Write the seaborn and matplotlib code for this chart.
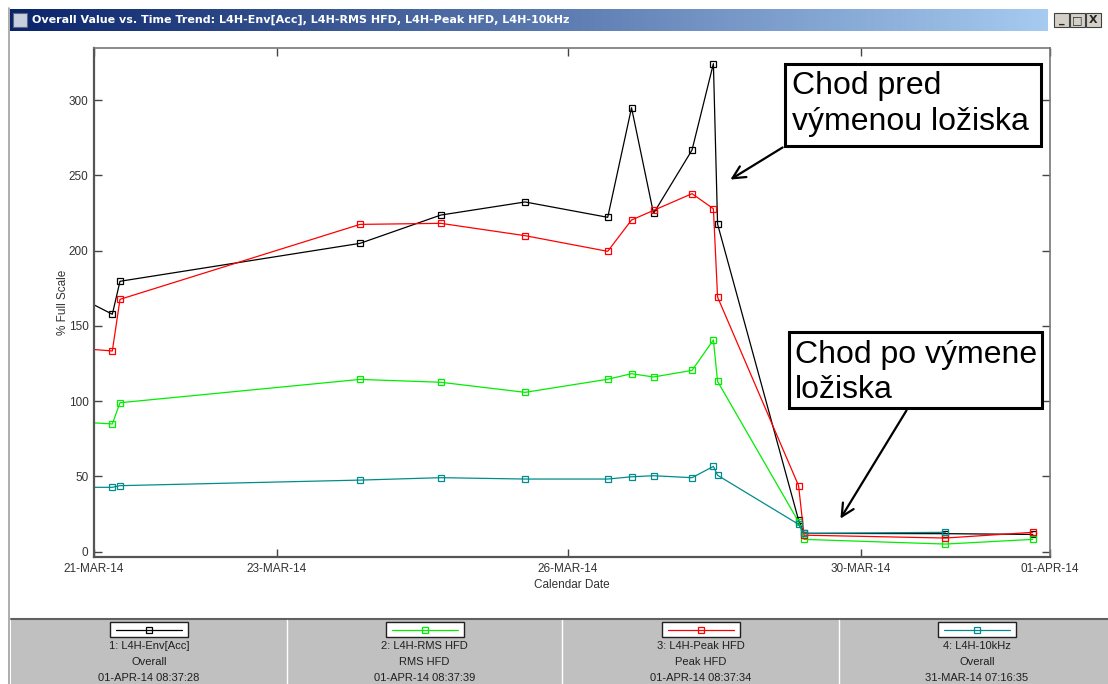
import numpy as np
import pandas as pd
import seaborn as sns
import matplotlib.pyplot as plt
from matplotlib.patches import Rectangle
from matplotlib.lines import Line2D
from matplotlib.colors import LinearSegmentedColormap

# sample times, days after 21-MAR-14 on the plot scale
days = [-0.253, 0.211, 0.299, 3.061, 3.990, 4.960, 5.911, 6.185, 6.438,
        6.881, 7.127, 7.175, 8.107, 8.170, 9.796, 10.802]

env_acc = [171.5, 157.8, 179.7, 204.9, 223.7, 232.4, 222.2, 295.0, 224.8,
           266.9, 324.3, 217.7, 21.0, 12.2, 12.0, 11.5]
rms_hfd = [86.5, 84.9, 99.0, 114.5, 112.6, 105.9, 114.6, 118.3, 116.1,
           120.5, 140.7, 113.2, 19.9, 8.2, 5.1, 8.2]
peak_hfd = [135.5, 133.4, 167.7, 217.5, 218.2, 210.0, 199.6, 220.4, 226.8,
            237.9, 227.9, 169.2, 43.9, 11.0, 9.1, 12.9]
khz10 = [42.8, 42.8, 43.9, 47.6, 49.2, 48.3, 48.3, 49.8, 50.5,
         49.2, 56.7, 50.8, 18.2, 12.2, 12.9]

tick_pos = [0, 2.106, 5.455, 8.826, 11.0]
tick_labels = ['21-MAR-14', '23-MAR-14', '26-MAR-14', '30-MAR-14', '01-APR-14']

leg_names = ['1: L4H-Env[Acc]', '2: L4H-RMS HFD', '3: L4H-Peak HFD', '4: L4H-10kHz']
leg_kind = ['Overall', 'RMS HFD', 'Peak HFD', 'Overall']
leg_time = ['01-APR-14 08:37:28', '01-APR-14 08:37:39', '01-APR-14 08:37:34', '31-MAR-14 07:16:35']
colors = ['#000000', '#00ee00', '#ff0000', '#008c8c']

title = 'Overall Value vs. Time Trend: L4H-Env[Acc], L4H-RMS HFD, L4H-Peak HFD, L4H-10kHz'

sns.set_style('ticks')
plt.rcParams['font.family'] = ['Liberation Sans', 'DejaVu Sans']

W, H = 1108, 684
fig = plt.figure(figsize=(W / 100, H / 100), dpi=100)
fig.patch.set_facecolor('white')


def fx(px):
    return px / W


def fy(py):
    return 1 - py / H


# main plot
ax = fig.add_axes([fx(94), fy(557), (1050 - 94) / W, (557 - 48) / H])
order = [(env_acc, colors[0]), (rms_hfd, colors[1]), (peak_hfd, colors[2]), (khz10, colors[3])]
for vals, col in order:
    df = pd.DataFrame({'day': days[:len(vals)], 'value': vals})
    sns.lineplot(data=df, x='day', y='value', ax=ax, color=col, lw=0.9,
                 marker='s', markersize=5, markerfacecolor='none',
                 markeredgecolor=col, markeredgewidth=0.9, legend=False)

ax.set_xlim(0, 11.0)
ax.set_ylim(-3.5, 334.7)
ax.set_xticks(tick_pos)
ax.set_xticklabels(tick_labels)
ax.set_yticks(range(0, 301, 50))
ax.tick_params(direction='in', length=6, width=1, top=True, right=True,
               labelsize=8.5, labelcolor='#333333', color='#444444', pad=4)
ax.set_xlabel('Calendar Date', fontsize=8.5, color='#333333', labelpad=3)
ax.set_ylabel('% Full Scale', fontsize=8.5, color='#333333', labelpad=0)
for s in ['left', 'bottom']:
    ax.spines[s].set_color('#555555')
    ax.spines[s].set_linewidth(1.6)
for s in ['top', 'right']:
    ax.spines[s].set_color('#777777')
    ax.spines[s].set_linewidth(1.2)

# title bar
tb = fig.add_axes([fx(10), fy(31), (1048 - 10) / W, 22 / H])
cmap = LinearSegmentedColormap.from_list('tb', ['#0a246a', '#a6caf0'])
tb.imshow(np.linspace(0, 1, 256).reshape(1, -1), cmap=cmap, aspect='auto')
tb.axis('off')
fig.add_artist(Rectangle((fx(13), fy(27)), 14 / W, 14 / H, transform=fig.transFigure,
                         facecolor='#c8d0e0', edgecolor='#606880', lw=0.8))
fig.text(fx(32), fy(20), title, color='white', fontsize=8, fontweight='bold',
         va='center', ha='left', family=['DejaVu Sans'])
for i, sym in enumerate(['_', '□', 'X']):
    x0 = 1054 + i * 16
    fig.add_artist(Rectangle((fx(x0), fy(27)), 15 / W, 14 / H, transform=fig.transFigure,
                             facecolor='#d4d0c8', edgecolor='#404040', lw=0.8))
    fig.text(fx(x0 + 7.5), fy(20), sym, fontsize=8, fontweight='bold',
             ha='center', va='center', family=['DejaVu Sans'])

# window frame
fig.add_artist(Line2D([fx(9), fx(9)], [fy(8), fy(684)], color='#a0a0a0', lw=1.2))

# annotation boxes
fig.add_artist(Rectangle((fx(785), fy(146)), (1041 - 785) / W, (146 - 64) / H,
                         transform=fig.transFigure, facecolor='white',
                         edgecolor='black', lw=2.2))
fig.text(fx(792), fy(71), 'Chod pred\nvýmenou ložiska', fontsize=23, color='black',
         ha='left', va='top', linespacing=1.25)
fig.add_artist(Rectangle((fx(789), fy(408)), (1042 - 789) / W, (408 - 332) / H,
                         transform=fig.transFigure, facecolor='white',
                         edgecolor='black', lw=2.2))
fig.text(fx(795), fy(340), 'Chod po výmene\nložiska', fontsize=23, color='black',
         ha='left', va='top', linespacing=1.2)

arrow = dict(arrowstyle='->, head_length=0.9, head_width=0.45', lw=1.6, color='black')
ax.annotate('', xy=(fx(728), fy(181)), xycoords='figure fraction',
            xytext=(fx(785), fy(146)), textcoords='figure fraction',
            arrowprops=arrow, annotation_clip=False)
ax.annotate('', xy=(fx(839), fy(521)), xycoords='figure fraction',
            xytext=(fx(908), fy(408)), textcoords='figure fraction',
            arrowprops=arrow, annotation_clip=False)

# legend panel at the bottom
fig.add_artist(Rectangle((fx(11), 0), (W - 11) / W, (H - 619) / H,
                         transform=fig.transFigure, facecolor='#c0c0c0',
                         edgecolor='none'))
fig.add_artist(Line2D([fx(11), 1], [fy(619), fy(619)], color='#606060', lw=1.5))
for xd in [287, 562, 839]:
    fig.add_artist(Line2D([fx(xd), fx(xd)], [fy(620), 0], color='white', lw=1.0))

centers = [149, 424.5, 700.5, 977]
for cx, col, nm, kd, tm in zip(centers, colors, leg_names, leg_kind, leg_time):
    fig.add_artist(Rectangle((fx(cx - 39), fy(637)), 78 / W, 15 / H,
                             transform=fig.transFigure, facecolor='white',
                             edgecolor='#202020', lw=1.0))
    fig.add_artist(Line2D([fx(cx - 33), fx(cx + 33)], [fy(629.5), fy(629.5)],
                          color=col, lw=0.9))
    fig.add_artist(Line2D([fx(cx)], [fy(629.5)], color=col, marker='s', markersize=5,
                          markerfacecolor='none', markeredgewidth=0.9))
    fig.text(fx(cx), fy(646), nm, fontsize=8, ha='center', va='center', color='#202020')
    fig.text(fx(cx), fy(662), kd, fontsize=8, ha='center', va='center', color='#202020')
    fig.text(fx(cx), fy(678), tm, fontsize=8, ha='center', va='center', color='#202020')

fig.savefig('out.png', dpi=100)
